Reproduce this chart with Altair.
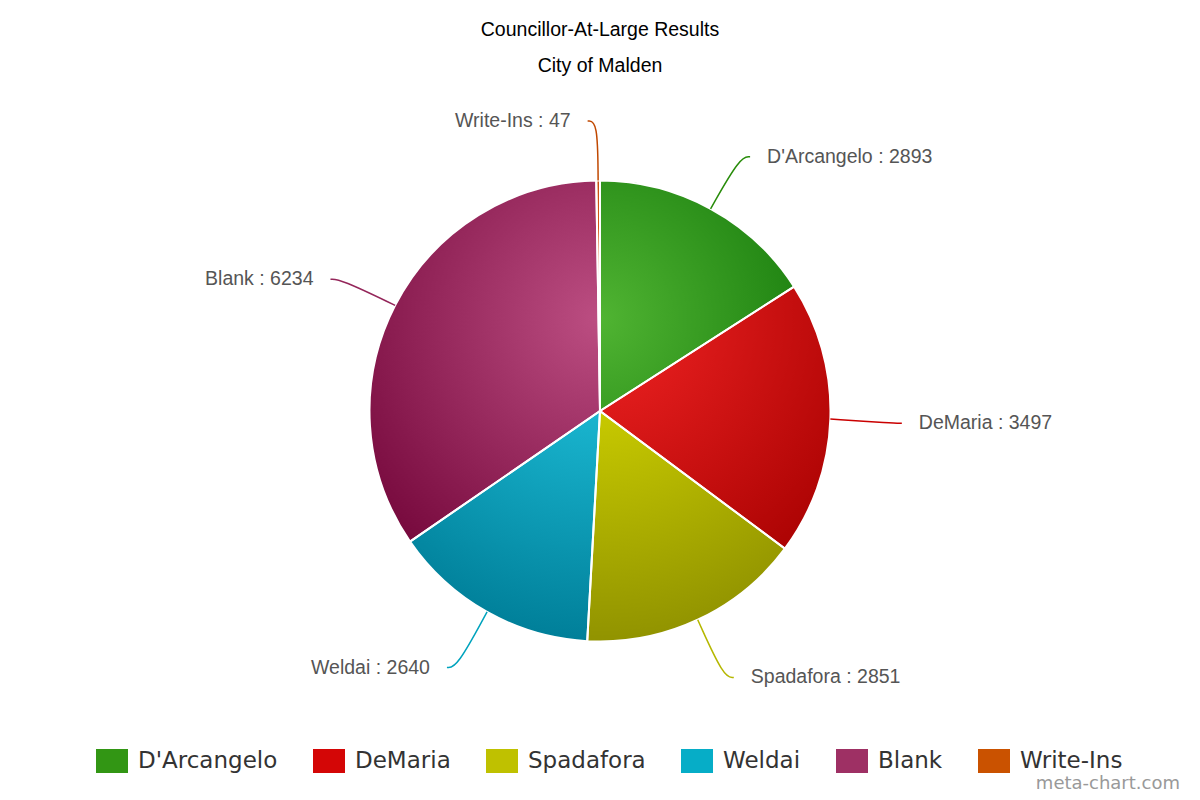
import math
import altair as alt
import pandas as pd

# ---- data ----
names = ["D'Arcangelo", "DeMaria", "Spadafora", "Weldai", "Blank", "Write-Ins"]
votes = [2893, 3497, 2851, 2640, 6234, 47]
base_colors = ["#50B432", "#F22424", "#DDDF00", "#24CBE5", "#BC4E82", "#E8701A"]
title_lines = ["Councillor-At-Large Results", "City of Malden"]
credit = ["meta-chart.com"]

# ---- layout (chart coordinates; page margin is 8px) ----
W, H = 1184, 784
CX, CY, R = 592, 403, 230.5
LABEL_R = 292
GX, GY, GR = CX, CY - R + 0.3 * 2 * R, 0.7 * 2 * R
TAU = 2 * math.pi


def shade(hexc, amt):
    rgb = [int(hexc[i:i + 2], 16) for i in (1, 3, 5)]
    rgb = [max(0, min(255, c + amt)) for c in rgb]
    return "#%02x%02x%02x" % tuple(rgb)


total = sum(votes)
starts, ends = [], []
acc = 0
for v in votes:
    starts.append(acc)
    acc += v
    ends.append(acc)

df = pd.DataFrame({"name": names, "votes": votes, "start": starts, "end": ends,
                   "idx": list(range(len(names)))})

theta_scale = alt.Scale(domain=[0, total], range=[0, TAU])
xs = alt.Scale(domain=[0, W], range=[0, W], nice=False, zero=False)
ys = alt.Scale(domain=[0, H], range=[0, H], nice=False, zero=False)

legend_colors = [shade(c, -30) for c in base_colors]

legend = alt.Legend(
    orient="none", legendX=88, legendY=737, direction="horizontal", columns=6,
    title=None, symbolType="M-1,-0.75H1V0.75H-1Z", symbolSize=1024,
    symbolStrokeWidth=0, labelFont="DejaVu Sans", labelFontSize=23,
    labelColor="#333333", labelOffset=10, columnPadding=35, labelLimit=400,
)

# base layer (carries the legend)
base = alt.Chart(df).mark_arc(outerRadius=R).encode(
    theta=alt.Theta("start:Q", scale=theta_scale, stack=None),
    theta2="end:Q",
    x=alt.value(CX), y=alt.value(CY),
    color=alt.Color("name:N", scale=alt.Scale(domain=names, range=legend_colors),
                    legend=legend),
    order=alt.Order("idx:Q"),
)

layers = [base]

# gradient slices, one per category (radial gradient shared across the pie)
line_rows, label_rows = [], []
for i, n in enumerate(names):
    a0 = TAU * starts[i] / total
    a1 = TAU * ends[i] / total
    pts = [(CX, CY), (CX + R * math.sin(a0), CY - R * math.cos(a0)),
           (CX + R * math.sin(a1), CY - R * math.cos(a1))]
    for k in range(5):
        a = k * math.pi / 2
        if a0 < a < a1:
            pts.append((CX + R * math.sin(a), CY - R * math.cos(a)))
    xmin = min(p[0] for p in pts); xmax = max(p[0] for p in pts)
    ymin = min(p[1] for p in pts); ymax = max(p[1] for p in pts)
    w, h = xmax - xmin, ymax - ymin
    s = max(w, h)
    ox = xmin + w / 2 - s / 2
    oy = ymin + h / 2 - s / 2
    gx, gy, gr = (GX - ox) / s, (GY - oy) / s, GR / s
    grad = {"gradient": "radial", "x1": gx, "y1": gy, "r1": 0,
            "x2": gx, "y2": gy, "r2": gr,
            "stops": [{"offset": 0, "color": base_colors[i]},
                      {"offset": 1, "color": shade(base_colors[i], -76)}]}
    layers.append(
        alt.Chart(df).transform_filter(alt.datum.idx == i)
        .mark_arc(outerRadius=R, color=grad)
        .encode(theta=alt.Theta("start:Q", scale=theta_scale, stack=None),
                theta2="end:Q", x=alt.value(CX), y=alt.value(CY))
    )

    # connector + label geometry derived from the slice angle
    m = (a0 + a1) / 2
    side = 1 if math.sin(m) >= 0 else -1
    ex, ey = CX + R * math.sin(m), CY - R * math.cos(m)
    tx = CX + LABEL_R * math.sin(m) + side * 10
    ty = CY - LABEL_R * math.cos(m) + 2
    lc = shade(base_colors[i], -40)
    for o, (px, py) in enumerate([(ex, ey), (tx - side * 10, ty), (tx, ty)]):
        line_rows.append({"name": n, "o": o, "x": px, "y": py, "lc": lc})
    label_rows.append({"name": n, "x": tx, "y": ty, "side": side,
                       "label": f"{n} : {votes[i]}"})

# white separators
sep = alt.Chart(df).mark_arc(outerRadius=R, filled=False, stroke="white",
                             strokeWidth=2).encode(
    theta=alt.Theta("start:Q", scale=theta_scale, stack=None),
    theta2="end:Q", x=alt.value(CX), y=alt.value(CY))
layers.append(sep)

ldf = pd.DataFrame(line_rows)
lines = alt.Chart(ldf).mark_line(interpolate="basis", strokeWidth=1.5).encode(
    x=alt.X("x:Q", scale=xs, axis=None),
    y=alt.Y("y:Q", scale=ys, axis=None),
    stroke=alt.Stroke("lc:N", scale=None),
    detail="name:N",
    order="o:Q",
)
layers.append(lines)

tdf = pd.DataFrame(label_rows)
text_common = dict(font="Liberation Sans", fontSize=19.5, color="#555555",
                   baseline="middle")
right_labels = alt.Chart(tdf).transform_filter(alt.datum.side > 0).mark_text(
    align="left", dx=17, **text_common).encode(
    x=alt.X("x:Q", scale=xs, axis=None), y=alt.Y("y:Q", scale=ys, axis=None),
    text="label:N")
left_labels = alt.Chart(tdf).transform_filter(alt.datum.side < 0).mark_text(
    align="right", dx=-17, **text_common).encode(
    x=alt.X("x:Q", scale=xs, axis=None), y=alt.Y("y:Q", scale=ys, axis=None),
    text="label:N")
layers += [right_labels, left_labels]

credit_layer = alt.Chart(pd.DataFrame({"t": credit})).mark_text(
    align="right", baseline="middle", font="DejaVu Sans", fontSize=18,
    color="#999999").encode(x=alt.value(1172), y=alt.value(776), text="t:N")
layers.append(credit_layer)

chart = alt.layer(*layers).properties(
    width=W, height=H,
    title=alt.TitleParams(text=title_lines, orient="top", anchor="middle",
                          frame="group", baseline="top", offset=0, dy=68,
                          font="Liberation Sans", fontSize=19.5,
                          fontWeight="normal", color="#000000", lineHeight=36),
    autosize=alt.AutoSizeParams(type="none"),
    padding=0,
).configure_view(stroke=None)

chart.save("out.html", embed_options={"renderer": "svg", "actions": False})
